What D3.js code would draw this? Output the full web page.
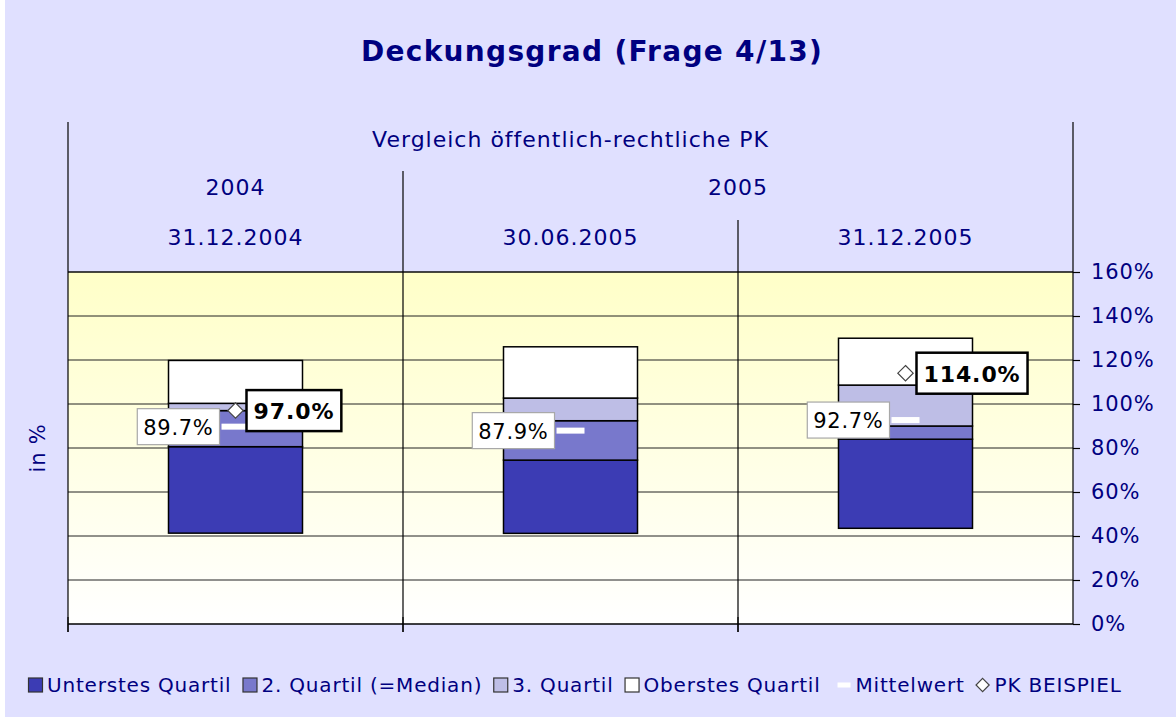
<!DOCTYPE html>
<html>
<head>
<meta charset="utf-8">
<script src="https://cdn.jsdelivr.net/npm/d3@7"></script>
<style>
  body { margin: 0; background: #fff; }
  text { font-family: Verdana, "DejaVu Sans", sans-serif; }
</style>
</head>
<body>
<div id="chart"></div>
<script>
// Data
const groupTitle = "Vergleich öffentlich-rechtliche PK";
const years = ["2004", "2005", "2005"];
const dates = ["31.12.2004", "30.06.2005", "31.12.2005"];
const minimum = [41.3, 41.2, 43.5];
const quart1 = [80.6, 74.5, 84.0];
const median = [97.0, 92.4, 90.0];
const quart3 = [100.3, 102.7, 108.6];
const maximum = [119.8, 126.0, 129.9];
const meanVals = [89.7, 87.9, 92.7];
const pkVals = [97.0, null, 114.0];
const yTicks = [0, 20, 40, 60, 80, 100, 120, 140, 160];
const legendNames = ["Unterstes Quartil", "2. Quartil (=Median)", "3. Quartil", "Oberstes Quartil", "Mittelwert", "PK BEISPIEL"];

const W = 1176, H = 717;
const navy = "#000080";
const segColors = ["#3c3cb4", "#7878cc", "#bebee6", "#ffffff"];

const svg = d3.select("#chart").append("svg")
  .attr("width", W).attr("height", H);

svg.append("rect").attr("x", 5).attr("y", 0).attr("width", W - 5).attr("height", H).attr("fill", "#e0e0ff");

// Title
svg.append("text")
  .attr("x", 592).attr("y", 61)
  .attr("text-anchor", "middle")
  .attr("font-size", 28).attr("font-weight", "bold")
  .attr("letter-spacing", 1.3)
  .attr("fill", navy)
  .text("Deckungsgrad (Frage 4/13)");

// Scales
const plot = { left: 68, right: 1073, top: 272, bottom: 624 };
const x = d3.scaleBand()
  .domain(dates)
  .range([plot.left, plot.right])
  .paddingInner(0.6)
  .paddingOuter(0.3);
const y = d3.scaleLinear().domain([0, 160]).range([plot.bottom, plot.top]);
const step = x.step();
const bandStart = d => x(d) - x.paddingOuter() * step;

// Plot background gradient
const grad = svg.append("defs").append("linearGradient")
  .attr("id", "bg").attr("x1", 0).attr("y1", 0).attr("x2", 0).attr("y2", 1);
grad.append("stop").attr("offset", "0%").attr("stop-color", "#ffffc8");
grad.append("stop").attr("offset", "100%").attr("stop-color", "#ffffff");

svg.append("rect")
  .attr("x", plot.left).attr("y", plot.top)
  .attr("width", plot.right - plot.left).attr("height", plot.bottom - plot.top)
  .attr("fill", "url(#bg)");

// Horizontal gridlines
svg.selectAll(".grid")
  .data(yTicks.filter(t => t > 0))
  .enter().append("line")
  .attr("x1", plot.left).attr("x2", plot.right)
  .attr("y1", d => y(d)).attr("y2", d => y(d))
  .attr("stroke", "#222").attr("stroke-width", 1);

// Header area: lines and labels
const header = svg.append("g").attr("fill", navy).attr("font-size", 22)
  .attr("letter-spacing", 1).attr("text-anchor", "middle");
header.append("text").attr("x", (plot.left + plot.right) / 2).attr("y", 147).text(groupTitle);

const yearGroups = d3.groups(dates.map((d, i) => ({ date: d, year: years[i] })), d => d.year);
yearGroups.forEach(([yr, items]) => {
  const x0 = bandStart(items[0].date);
  const x1 = bandStart(items[items.length - 1].date) + step;
  header.append("text").attr("x", (x0 + x1) / 2).attr("y", 195).text(yr);
});
dates.forEach(d => {
  header.append("text").attr("x", bandStart(d) + step / 2).attr("y", 245).text(d);
});

// Vertical separators
svg.append("line").attr("x1", plot.left).attr("x2", plot.left).attr("y1", 122).attr("y2", plot.bottom + 8)
  .attr("stroke", "#000").attr("stroke-width", 1.2);
svg.append("line").attr("x1", plot.right).attr("x2", plot.right).attr("y1", 122).attr("y2", plot.bottom)
  .attr("stroke", "#000").attr("stroke-width", 1.2);
yearGroups.slice(1).forEach(([yr, items]) => {
  const xx = bandStart(items[0].date);
  svg.append("line").attr("x1", xx).attr("x2", xx).attr("y1", 171).attr("y2", plot.bottom + 8)
    .attr("stroke", "#000").attr("stroke-width", 1.2);
});
dates.forEach((d, i) => {
  if (i === 0 || years[i] !== years[i - 1]) return;
  const xx = bandStart(d);
  svg.append("line").attr("x1", xx).attr("x2", xx).attr("y1", 220).attr("y2", plot.bottom + 8)
    .attr("stroke", "#000").attr("stroke-width", 1.2);
});
// bottom cross ticks
dates.forEach(d => {
  svg.append("line").attr("x1", bandStart(d)).attr("x2", bandStart(d))
    .attr("y1", plot.bottom - 7).attr("y2", plot.bottom + 8)
    .attr("stroke", "#000").attr("stroke-width", 1.2);
});

// Top and bottom borders
svg.append("line").attr("x1", plot.left).attr("x2", plot.right).attr("y1", plot.top).attr("y2", plot.top)
  .attr("stroke", "#000").attr("stroke-width", 1.2);
svg.append("line").attr("x1", plot.left).attr("x2", plot.right).attr("y1", plot.bottom).attr("y2", plot.bottom)
  .attr("stroke", "#000").attr("stroke-width", 1.5);

// Right axis
const yAxis = svg.append("g")
  .attr("transform", `translate(${plot.right},0)`)
  .call(d3.axisRight(y).tickValues(yTicks).tickSize(7).tickPadding(11).tickFormat(d => d + "%"));
yAxis.select(".domain").remove();
yAxis.selectAll("line").attr("stroke", "#000").attr("stroke-width", 1.2);
yAxis.selectAll("text").attr("fill", navy).attr("font-size", 21).attr("letter-spacing", 0.9)
  .attr("font-family", 'Verdana, "DejaVu Sans", sans-serif');

// Y axis title
svg.append("text")
  .attr("transform", "translate(45,448) rotate(-90)")
  .attr("text-anchor", "middle")
  .attr("font-size", 21).attr("letter-spacing", 0.8).attr("fill", navy)
  .text("in %");

// Stacked quartile boxes
const segs = [];
dates.forEach((d, i) => {
  const bounds = [minimum[i], quart1[i], median[i], quart3[i], maximum[i]];
  for (let k = 0; k < 4; k++) segs.push({ date: d, lo: bounds[k], hi: bounds[k + 1], k: k });
});
svg.selectAll(".seg")
  .data(segs)
  .enter().append("rect")
  .attr("class", "seg")
  .attr("x", d => x(d.date))
  .attr("width", x.bandwidth())
  .attr("y", d => y(d.hi))
  .attr("height", d => y(d.lo) - y(d.hi))
  .attr("fill", d => segColors[d.k])
  .attr("stroke", "#000").attr("stroke-width", 1.5);

// Mean markers
svg.selectAll(".mean")
  .data(dates)
  .enter().append("rect")
  .attr("x", d => x(d) + x.bandwidth() / 2 - 14)
  .attr("y", (d, i) => y(meanVals[i]) - 3)
  .attr("width", 28).attr("height", 6)
  .attr("fill", "#fff");

// PK markers
const diamond = d3.symbol().type(d3.symbolDiamond2).size(150);
dates.forEach((d, i) => {
  if (pkVals[i] == null) return;
  svg.append("path")
    .attr("d", diamond)
    .attr("transform", `translate(${x(d) + x.bandwidth() / 2},${y(pkVals[i])})`)
    .attr("fill", "#fff").attr("stroke", "#444").attr("stroke-width", 1.2);
});

// Label boxes
function labelBox(cx, cy, txt, anchor, bold) {
  const g = svg.append("g");
  const t = g.append("text")
    .attr("font-size", bold ? 22 : 21)
    .attr("font-weight", bold ? "bold" : "normal")
    .attr("letter-spacing", bold ? 0.9 : 0.7)
    .attr("fill", "#000")
    .attr("dominant-baseline", "central")
    .text(txt);
  const tw = t.node().getComputedTextLength();
  const padX = bold ? 7 : 6;
  const w = tw + 2 * padX;
  const h = bold ? 41 : 36;
  const x0 = anchor === "end" ? cx - w : cx;
  g.insert("rect", "text")
    .attr("x", x0).attr("y", cy - h / 2)
    .attr("width", w).attr("height", h)
    .attr("fill", "#fff")
    .attr("stroke", bold ? "#000" : "#a8a8a8")
    .attr("stroke-width", bold ? 2.5 : 1.2);
  t.attr("x", x0 + padX).attr("y", cy + 1);
}
dates.forEach((d, i) => {
  const cx = x(d) + x.bandwidth() / 2;
  labelBox(cx - 16, y(meanVals[i]), meanVals[i].toFixed(1) + "%", "end", false);
  if (pkVals[i] != null) labelBox(cx + 11, y(pkVals[i]), pkVals[i].toFixed(1) + "%", "start", true);
});

// Legend
const legendDiamond = d3.symbol().type(d3.symbolDiamond2).size(110);
const legend = svg.append("g").attr("transform", "translate(28,685)");
let lx = 0;
legendNames.forEach((name, i) => {
  if (i < 4) {
    legend.append("rect").attr("x", lx + 0.5).attr("y", -7).attr("width", 14).attr("height", 14)
      .attr("fill", segColors[i]).attr("stroke", "#333").attr("stroke-width", 1.2);
    lx += 19;
  } else if (i === 4) {
    lx += 6;
    legend.append("rect").attr("x", lx).attr("y", -2.5).attr("width", 13).attr("height", 5).attr("fill", "#fff");
    lx += 18;
  } else {
    legend.append("path").attr("d", legendDiamond).attr("transform", `translate(${lx + 7},0)`)
      .attr("fill", "#fff").attr("stroke", "#444").attr("stroke-width", 1.2);
    lx += 19;
  }
  const t = legend.append("text").attr("x", lx).attr("y", 0)
    .attr("dominant-baseline", "central")
    .attr("font-size", 20).attr("letter-spacing", 0.8).attr("fill", navy).text(name);
  lx += t.node().getComputedTextLength() + 11;
});
</script>
</body>
</html>
